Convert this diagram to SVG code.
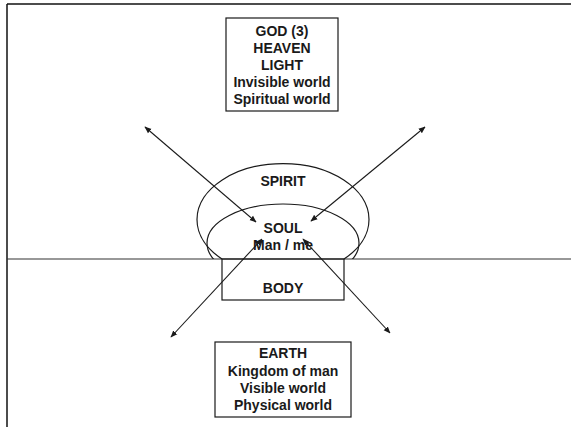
<svg xmlns="http://www.w3.org/2000/svg" width="571" height="427" viewBox="0 0 571 427">
<style>
.t{font-family:"Liberation Sans",Arial,sans-serif;font-weight:bold;font-size:14px;fill:#1a1a1a;text-anchor:middle}
.s{fill:none;stroke:#1a1a1a;stroke-width:1.2}
.a{fill:none;stroke:#1a1a1a;stroke-width:1.1;marker-start:url(#ah);marker-end:url(#ah)}
</style>
<defs>
<marker id="ah" viewBox="0 0 10 10" refX="9" refY="5" markerWidth="7" markerHeight="7" markerUnits="userSpaceOnUse" orient="auto-start-reverse">
<path d="M0,1 L10,5 L0,9 z" fill="#1a1a1a"/>
</marker>
<clipPath id="above"><rect x="0" y="0" width="571" height="259"/></clipPath>
</defs>
<rect width="571" height="427" fill="#fff"/>
<g id="frame">
<line x1="7" y1="4" x2="571" y2="4" stroke="#111" stroke-width="1.5"/>
<line x1="7" y1="4" x2="7" y2="427" stroke="#111" stroke-width="1.5"/>
</g>
<g id="ground"><line x1="7" y1="259" x2="571" y2="259" stroke="#333" stroke-width="1.2"/></g>
<g id="heaven">
<rect class="s" x="226" y="18" width="112" height="93"/>
<text class="t" x="282" y="36">GOD (3)</text>
<text class="t" x="282" y="53">HEAVEN</text>
<text class="t" x="282" y="70">LIGHT</text>
<text class="t" x="282" y="87">Invisible world</text>
<text class="t" x="282" y="104">Spiritual world</text>
</g>
<g id="spirit">
<path class="s" d="M222,259 A86,56 0 1 1 344,259"/>
<text class="t" x="283" y="186">SPIRIT</text>
</g>
<g id="soul">
<ellipse class="s" cx="283" cy="243" rx="76" ry="39" clip-path="url(#above)"/>
<text class="t" x="283" y="233">SOUL</text>
<text class="t" x="283" y="250">Man / me</text>
</g>
<g id="body">
<rect class="s" x="222" y="259" width="122" height="41" fill="#fff"/>
<text class="t" x="283" y="293">BODY</text>
</g>
<g id="earth">
<rect class="s" x="215" y="342" width="136" height="75"/>
<text class="t" x="283" y="358">EARTH</text>
<text class="t" x="283" y="376">Kingdom of man</text>
<text class="t" x="283" y="393">Visible world</text>
<text class="t" x="283" y="410">Physical world</text>
</g>
<g id="connectors">
<line class="a" x1="256" y1="222" x2="145" y2="127"/>
<line class="a" x1="311" y1="221" x2="425" y2="127"/>
<line class="a" x1="262" y1="239" x2="171" y2="337"/>
<line class="a" x1="303" y1="239" x2="390" y2="333"/>
</g>
</svg>
